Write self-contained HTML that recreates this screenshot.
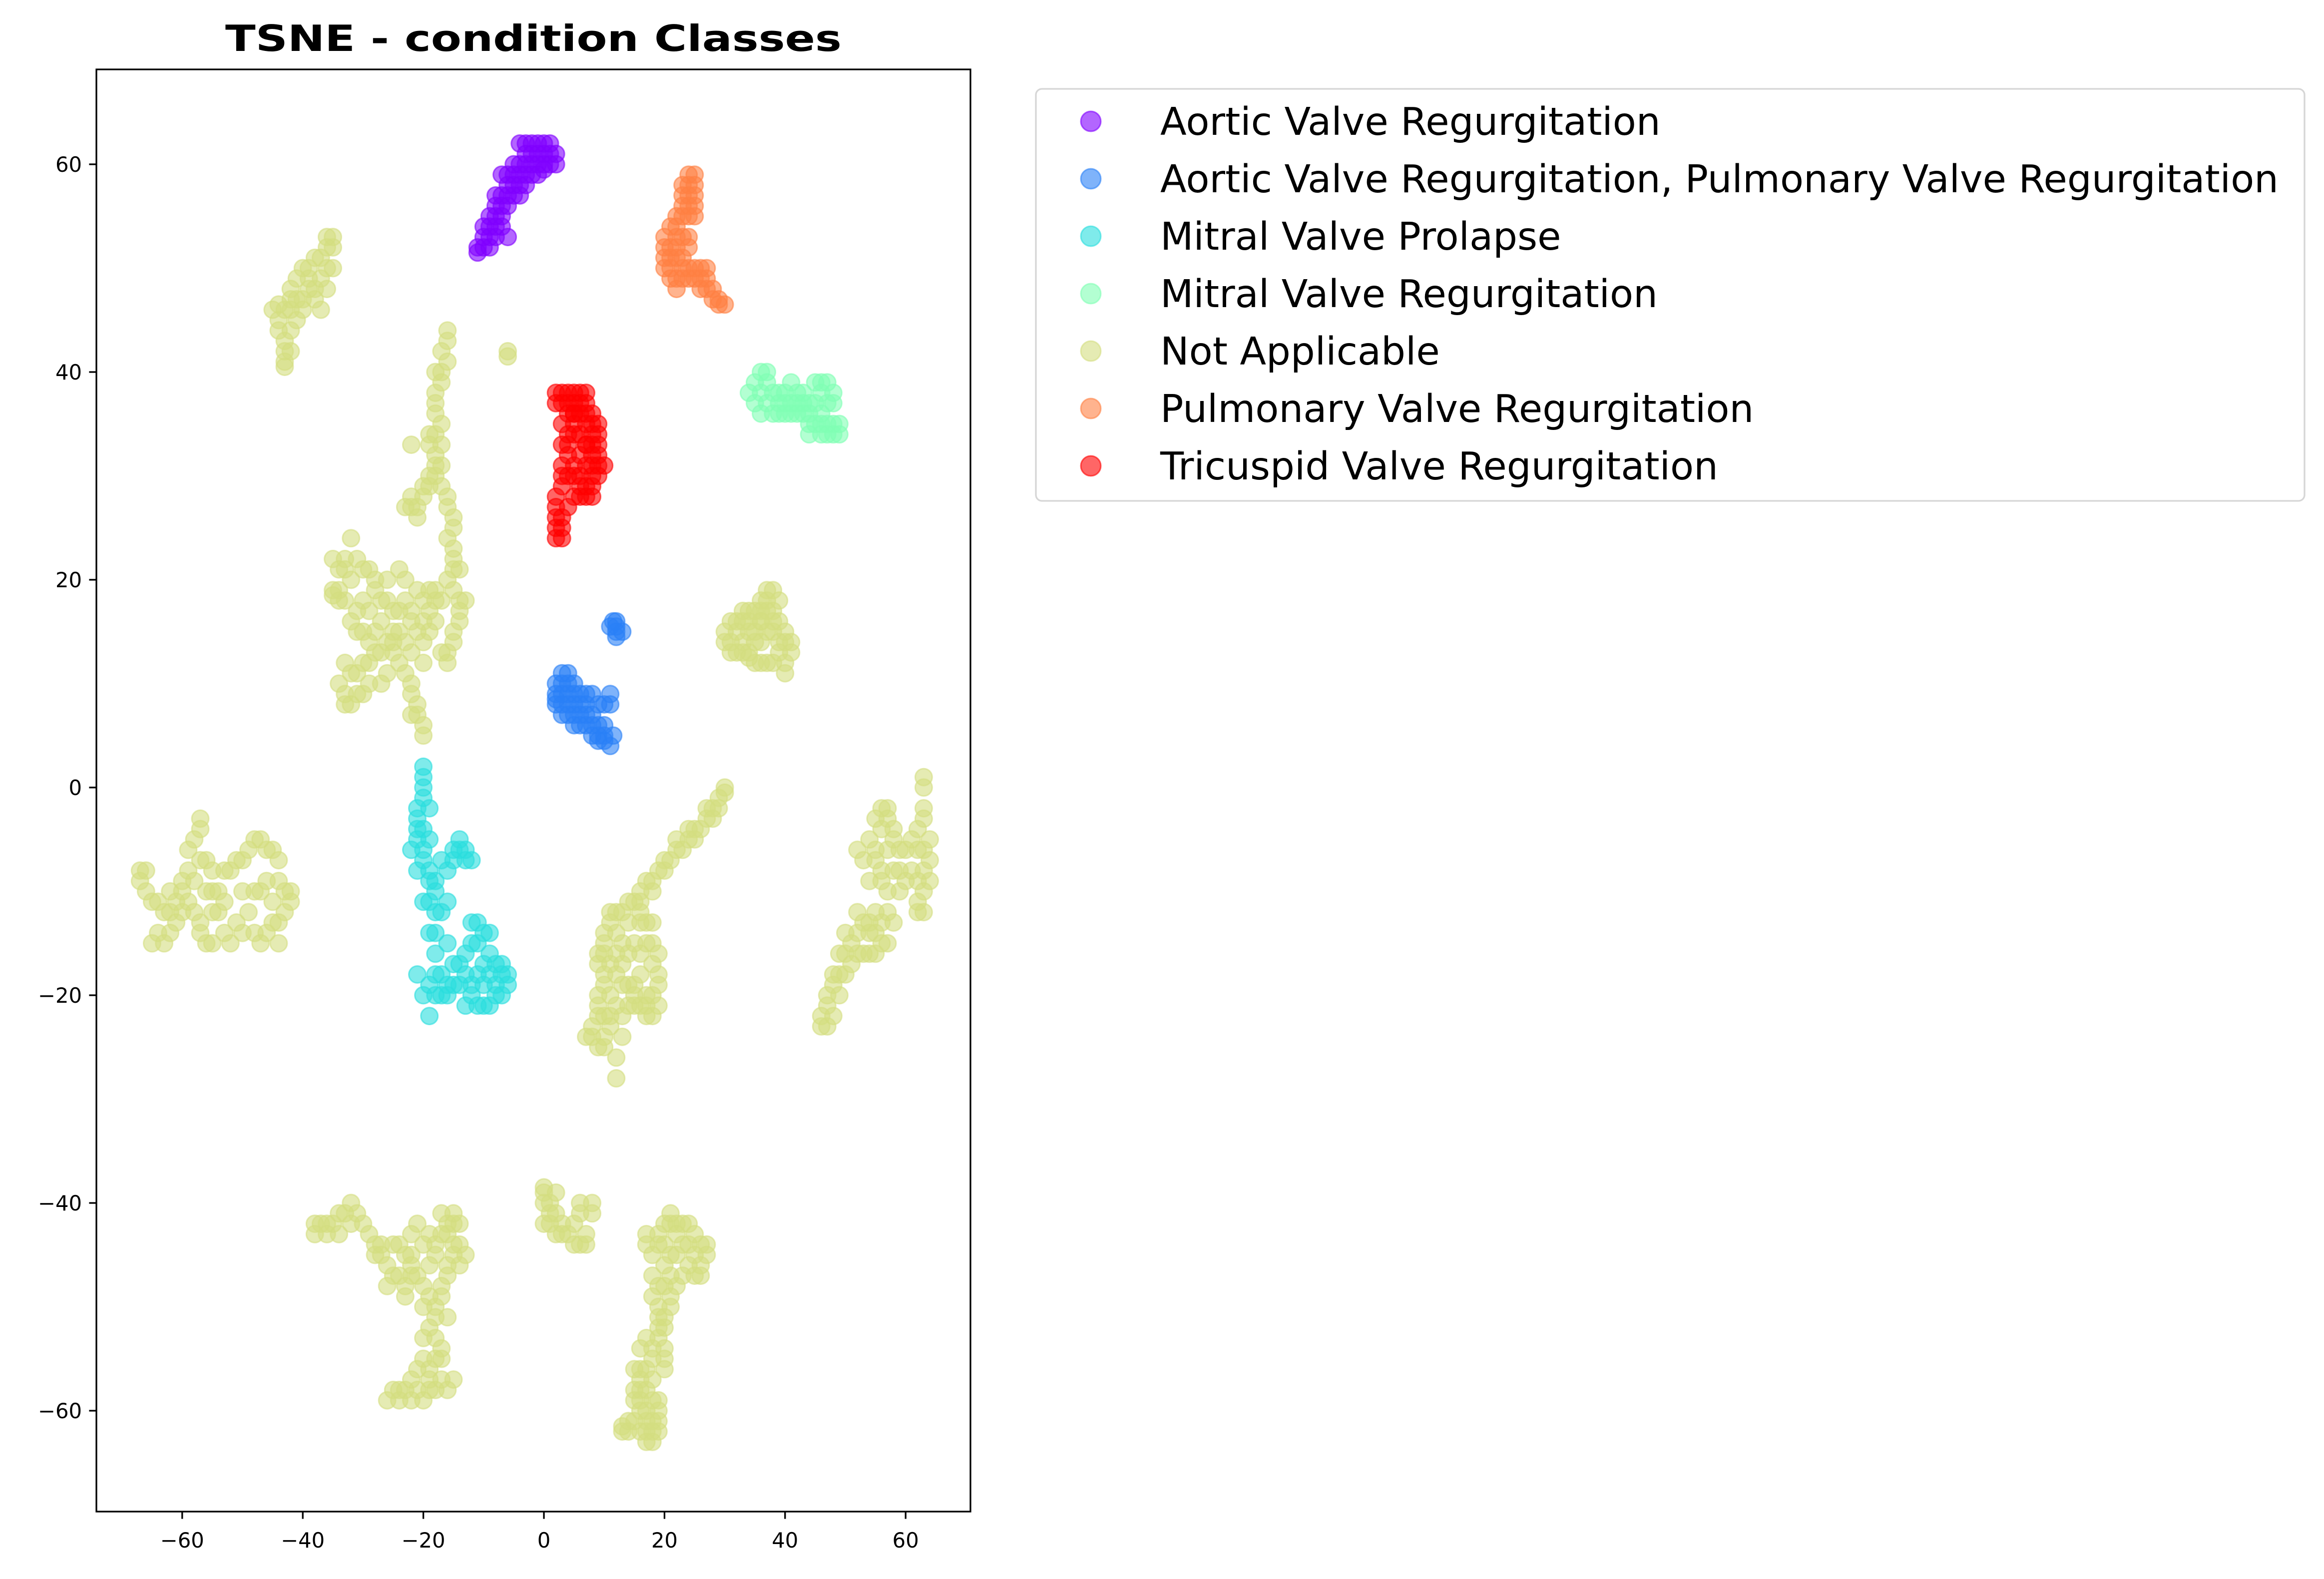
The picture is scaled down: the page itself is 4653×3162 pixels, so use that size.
<!DOCTYPE html>
<html><head><meta charset="utf-8"><style>html,body{margin:0;padding:0;background:#fff}svg{display:block}</style></head>
<body>
<svg id="chart" xmlns="http://www.w3.org/2000/svg" width="4653" height="3162" viewBox="0 0 4653 3162" font-family="'DejaVu Sans','Liberation Sans',sans-serif">
<rect width="4653" height="3162" fill="#fff"/>
<text x="1068" y="102" text-anchor="middle" font-size="72" font-weight="bold" textLength="1234" lengthAdjust="spacingAndGlyphs">TSNE - condition Classes</text>
<g id="points"></g>
<g id="axes"></g>
<g id="legend"></g>
</svg>
<script>
const classNames = ["Aortic Valve Regurgitation","Aortic Valve Regurgitation, Pulmonary Valve Regurgitation","Mitral Valve Prolapse","Mitral Valve Regurgitation","Not Applicable","Pulmonary Valve Regurgitation","Tricuspid Valve Regurgitation"];
const classColors = ["#8000ff","#2a80f6","#2adddd","#80ffb4","#d4dd80","#ff8042","#ff0000"];
const xTicks = [-60,-40,-20,0,20,40,60];
const yTicks = [-60,-40,-20,0,20,40,60];
const aorticPts = [[-11,51.5],[-9,52],[-10,53],[-8,55],[-7,57],[-6,58],[-5,59],[-4,60],[-3,61],[-1,61],[0,62],[1,61],[2,60],[-2,59],[0,60],[-6,56],[-9,54],[-7,54],[-8,53],[-4,62],[-3,59],[-5,57],[-1,60],[1,62],[-2,62],[-7,59],[-8,57],[-6,53],[-11,52],[-3,58],[-4,57],
[-10,52],[-9,53],[-8,54],[-7,55],[-6,57],[-5,58],[-4,59],[-3,60],[-2,61],[-1,62],[0,61],[1,60],[-2,60],[-5,60],[-6,59],[-4,58],[-8,56],[-9,55],[-10,54],[-7,56],[-3,62],[2,61],[-1,59],[0,59.5]];
const aorticPulmPts = [[2,9],[3,10],[4,11],[5,10],[3,8],[4,7],[5,8],[6,7],[7,6],[8,5],[9,5],[10,4.5],[11,4],[9,6],[10,8],[11,9],[8,9],[6,9],[2,8],[4,9],[7,8],[12,15],[12,16],[11,15.5],[13,15],[12,14.5],[5,6],[3,9],
[2,10],[3,11],[4,10],[5,9],[6,8],[7,7],[8,6],[9,4.5],[10,5],[10,6],[11,8],[9,8],[8,7],[7,9],[6,6],[4,8],[3,7],[2,8.5],[5,7],[11.5,5],[12,15.5],[11.5,16]];
const mvpPts = [[-20,2],[-20,0],[-19,-2],[-21,-4],[-20,-6],[-22,-6],[-21,-8],[-19,-8],[-18,-10],[-20,-11],[-17,-12],[-15,-7],[-13,-6],[-14,-5],[-12,-7],[-16,-8],[-18,-16],[-17,-18],[-16,-20],[-19,-22],[-18,-20],[-15,-19],[-13,-21],[-12,-19],[-10,-17],[-10,-14],[-11,-13],[-9,-16],[-8,-20],[-7,-18],[-6,-18],[-7,-20],[-9,-21],[-14,-17],[-21,-18],[-19,-14],[-10,-21],[-11,-18],[-16,-15],[-19,-5],[-21,-2],
[-20,1],[-20,-1],[-21,-3],[-20,-4],[-21,-5],[-20,-7],[-19,-9],[-18,-9],[-19,-11],[-18,-12],[-16,-11],[-14,-6],[-13,-7],[-15,-6],[-17,-7],[-18,-14],[-18,-18],[-17,-20],[-16,-19],[-14,-19],[-13,-18],[-12,-20],[-11,-21],[-12,-15],[-11,-15],[-9,-18],[-8,-17],[-8,-19],[-10,-19],[-15,-17],[-20,-20],[-19,-19],[-13,-16],[-9,-14],[-7,-17],[-6,-19],[-12,-13]];
const mvrPts = [[34,38],[35,37],[36,40],[37,39],[38,38],[39,37],[40,38],[41,37],[42,36],[43,37],[44,36],[45,35],[46,34],[47,34],[48,34],[49,35],[46,38],[47,39],[45,39],[48,37],[43,38],[38,36],[40,36],[44,34],[42,38],[46,36],
[35,39],[36,38],[37,37],[39,38],[40,37],[41,36],[42,37],[43,36],[44,35],[45,37],[46,35],[47,35],[48,35],[48,38],[47,37],[46,39],[44,37],[39,36],[36,36],[41,39],[49,34],[37,40]];
const naPts = [
[-35,53],[-36,52],[-38,51],[-40,50],[-41,49],[-40,47],[-42,47],[-43,46],[-45,46],[-44,44],[-43,42],[-43,41],[-42,44],[-38,48],[-36,50],[-37,46],[-39,49],[-41,45],
[-35,52],[-37,51],[-39,50],[-39,48],[-41,47],[-42,46],[-44,45],[-43,43],[-42,42],[-43,40.5],[-36,53],[-37,49],[-38,47],[-40,46],[-42,48],[-35,50],[-36,48],[-44,46.5],
[-16,44],[-17,42],[-17,40],[-18,38],[-18,36],[-19,34],[-18,32],[-19,30],[-20,29],[-22,28],[-23,27],[-21,26],[-17,31],[-16,28],[-15,25],[-15,22],[-16,20],[-14,17],[-15,15],[-17,13],[-16,12],[-22,33],[-6,42],[-13,18],[-14,21],
[-16,43],[-16,41],[-17,39],[-18,37],[-17,35],[-18,34],[-19,33],[-18,31],[-19,29],[-20,28],[-21,27],[-22,27],[-17,29],[-16,27],[-15,26],[-16,24],[-15,23],[-15,21],[-15,19],[-14,18],[-14,16],[-15,14],[-16,13],[-18,30],[-17,33],[-18,40],[-6,41.5],
[-35,22],[-33,21],[-32,24],[-30,21],[-28,20],[-27,18],[-25,17],[-22,16],[-20,18],[-19,19],[-23,20],[-26,14],[-30,18],[-34,18],[-35,19],[-31,15],[-29,12],[-31,11],[-33,9],[-32,8],[-30,9],[-27,10],[-25,13],[-23,11],[-21,8],[-20,6],[-22,7],[-24,15],[-28,15],[-18,16],[-17,18],[-20,14],[-33,12],
[-34,21],[-33,22],[-31,22],[-32,20],[-29,21],[-28,19],[-26,18],[-24,17],[-23,18],[-21,19],[-22,17],[-20,16],[-19,17],[-18,18],[-18,19],[-25,15],[-27,16],[-29,17],[-31,17],[-33,18],[-32,16],[-30,15],[-28,13],[-30,12],[-32,11],[-34,10],[-33,8],[-31,9],[-29,10],[-26,11],[-24,12],[-22,13],[-22,10],[-21,7],[-20,5],[-22,9],[-25,14],[-27,13],[-23,14],[-21,15],[-34,19],[-26,20],[-24,21],[-35,18.5],[-29,14],[-20,12],[-19,15],
[30,15],[31,14],[32,16],[33,17],[34,13],[35,15],[36,17],[37,18],[38,16],[39,14],[40,12],[40,15],[37,12],[35,12],[32,13],[38,19],[36,14],[41,13],[34,16],[33,14],[36,16],
[30,14],[31,16],[32,15],[33,16],[33,13],[34,15],[35,14],[35,17],[36,16],[37,17],[37,15],[38,15],[38,17],[39,16],[39,13],[40,14],[40,11],[38,12],[36,12],[34,12.5],[31,13],[37,19],[39,18],[36,18],[41,14],[34,17],
[-67,-8],[-66,-10],[-64,-11],[-65,-15],[-62,-14],[-60,-12],[-59,-8],[-58,-5],[-57,-3],[-56,-7],[-55,-10],[-54,-12],[-52,-8],[-50,-7],[-48,-5],[-46,-6],[-44,-7],[-43,-10],[-42,-11],[-45,-13],[-47,-15],[-50,-14],[-52,-15],[-56,-15],[-60,-9],[-53,-11],[-48,-10],[-44,-15],[-62,-10],[-57,-13],
[-67,-9],[-65,-11],[-63,-12],[-64,-14],[-62,-12],[-61,-11],[-60,-10],[-59,-6],[-57,-4],[-57,-7],[-56,-10],[-55,-12],[-54,-10],[-53,-8],[-51,-7],[-49,-6],[-47,-5],[-45,-6],[-44,-9],[-43,-12],[-44,-13],[-46,-14],[-48,-14],[-49,-12],[-51,-13],[-53,-14],[-55,-15],[-57,-14],[-58,-12],[-59,-11],[-61,-13],[-63,-15],[-66,-8],[-47,-10],[-50,-10],[-45,-11],[-42,-10],[-55,-8],[-58,-9],[-46,-9],
[30,0],[29,-1],[28,-2],[27,-3],[25,-4],[24,-5],[22,-6],[20,-8],[18,-9],[16,-10],[15,-11],[13,-12],[11,-12],[10,-14],[9,-16],[10,-18],[9,-20],[8,-23],[9,-25],[10,-24],[12,-28],[13,-22],[15,-21],[17,-20],[18,-22],[19,-16],[18,-13],[17,-15],[13,-17],[12,-14],[14,-19],[11,-20],[16,-18],[19,-19],[7,-24],
[30,-0.5],[29,-2],[28,-3],[26,-4],[25,-5],[23,-6],[21,-7],[19,-8],[17,-9],[16,-11],[14,-11],[12,-12],[11,-13],[10,-15],[10,-16],[9,-17],[10,-19],[9,-21],[9,-22],[8,-24],[10,-25],[11,-23],[12,-21],[14,-21],[16,-21],[17,-21],[18,-20],[19,-18],[18,-17],[18,-15],[17,-13],[16,-13],[14,-13],[13,-15],[12,-16],[12,-18],[13,-19],[15,-19],[16,-16],[15,-15],[14,-16],[11,-17],[11,-22],[16,-12],[13,-24],[12,-26],[10,-22],[27,-2],[24,-4],[22,-5],[20,-7],[18,-10],[19,-21],[17,-22],[15,-20],
[63,1],[63,-3],[62,-6],[64,-7],[63,-10],[62,-12],[60,-9],[58,-5],[57,-3],[56,-2],[55,-6],[56,-9],[57,-12],[55,-14],[54,-13],[52,-12],[50,-14],[49,-16],[48,-18],[47,-20],[46,-22],[47,-23],[50,-18],[53,-16],[56,-15],[59,-8],[52,-6],[54,-9],
[63,0],[63,-2],[62,-4],[63,-6],[63,-8],[62,-9],[62,-11],[61,-8],[59,-6],[58,-4],[57,-2],[56,-4],[55,-7],[56,-8],[57,-10],[56,-13],[55,-12],[54,-14],[53,-13],[52,-14],[51,-15],[50,-16],[49,-18],[48,-19],[47,-21],[46,-23],[48,-22],[49,-20],[51,-17],[52,-16],[54,-16],[55,-16],[58,-13],[57,-15],[55,-3],[53,-7],[54,-5],[58,-8],[60,-6],[61,-5],[64,-5],[64,-9],[63,-12],[59,-10],[57,-6],
[-38,-42],[-36,-43],[-34,-41],[-32,-40],[-30,-42],[-28,-45],[-25,-47],[-24,-44],[-22,-46],[-20,-48],[-18,-45],[-15,-42],[-14,-44],[-16,-47],[-18,-50],[-19,-52],[-17,-55],[-15,-57],[-18,-58],[-20,-59],[-24,-58],[-22,-57],[-26,-59],[-20,-55],[-21,-42],[-17,-41],[-23,-49],[-27,-44],[-14,-46],[-16,-51],
[-37,-42],[-35,-42],[-33,-41],[-31,-41],[-29,-43],[-27,-45],[-26,-46],[-25,-44],[-23,-45],[-22,-47],[-21,-47],[-19,-46],[-18,-44],[-17,-43],[-16,-42],[-15,-44],[-15,-45],[-16,-46],[-17,-48],[-17,-49],[-18,-51],[-18,-53],[-18,-55],[-17,-57],[-16,-58],[-19,-57],[-21,-58],[-23,-58],[-25,-58],[-24,-59],[-22,-59],[-19,-58],[-19,-56],[-21,-56],[-20,-44],[-22,-43],[-20,-50],[-24,-47],[-26,-48],[-23,-48],[-19,-49],[-19,-43],[-16,-43],[-15,-41],[-17,-54],[-20,-53],[-22,-45],[-28,-44],[-32,-42],[-34,-43],[-36,-42],[-38,-43],[-14,-42],[-13,-45],
[0,-39],[1,-40],[2,-41],[0,-42],[3,-43],[5,-44],[7,-44],[8,-40],[6,-41],[17,-43],[19,-44],[21,-41],[23,-42],[25,-43],[27,-45],[26,-47],[24,-46],[22,-48],[20,-46],[18,-47],[19,-50],[20,-52],[18,-54],[16,-56],[15,-58],[16,-60],[17,-61],[19,-62],[18,-63],[13,-62],[14,-61],[17,-58],[20,-56],[19,-59],[16,-54],[21,-49],
[0,-40],[1,-41],[1,-42],[2,-43],[4,-43],[6,-44],[7,-43],[8,-41],[6,-40],[5,-42],[3,-42],[0,-38.5],[2,-39],[17,-44],[18,-45],[19,-43],[20,-42],[21,-42],[22,-43],[23,-44],[24,-44],[26,-44],[26,-46],[25,-47],[23,-47],[21,-47],[20,-48],[19,-48],[18,-49],[19,-51],[19,-52],[19,-53],[18,-55],[17,-56],[16,-57],[15,-59],[15,-61],[16,-62],[17,-62],[18,-61],[19,-60],[19,-61],[18,-62],[14,-62],[16,-59],[17,-60],[18,-57],[20,-55],[20,-54],[17,-53],[21,-45],[22,-45],[20,-44],[25,-45],[27,-44],[21,-50],[20,-51],[16,-58],[13,-61.5],[18,-59],[17,-63],[15,-56],[22,-42],[24,-42]];
const pulmPts = [[24,59],[23,58],[25,57],[24,56],[22,55],[23,53],[21,52],[20,51],[21,49],[22,48],[23,50],[25,49],[26,50],[27,49],[28,48],[29,47],[30,46.5],[24,52],[25,55],[22,51],[21,54],[25,58],[27,50],[24,49],[23,55],[20,53],
[24,58],[23,57],[24,57],[25,56],[23,56],[22,54],[22,53],[21,51],[20,50],[21,50],[22,49],[23,49],[24,50],[25,50],[26,49],[27,48],[28,47],[29,46.5],[23,51],[24,53],[24,55],[22,52],[26,48],[25,59],[20,52]];
const tricPts = [[2,38],[3,37],[4,36],[5,37],[6,38],[7,37],[8,36],[9,35],[8,33],[9,31],[8,29],[7,28],[6,28],[5,30],[4,33],[3,35],[5,34],[6,32],[7,31],[8,30],[9,32],[10,31],[3,30],[2,28],[2,26],[3,24],[3,25],[2,25],[4,27],[7,35],[6,36],[4,38],[5,36],[7,33],
[2,37],[3,38],[4,37],[5,36],[6,37],[7,36],[8,35],[8,34],[9,33],[8,32],[9,30],[8,28],[7,29],[6,30],[5,31],[4,32],[3,33],[4,34],[5,35],[6,34],[7,33],[8,31],[3,31],[3,29],[2,27],[3,26],[2,24],[4,30],[5,28],[6,29],[9,34],[7,38],[5,38]];
const seriesPts = [aorticPts, aorticPulmPts, mvpPts, mvrPts, naPts, pulmPts, tricPts];

const NS="http://www.w3.org/2000/svg";
const L=193,R=1943,T=139,B=3027;
const X0=1089, XS=12.07, Y0=1577, YS=20.8;
const sx=v=>X0+v*XS, sy=v=>Y0-v*YS;
function mk(tag,attrs,parent){const e=document.createElementNS(NS,tag);for(const k in attrs)e.setAttribute(k,attrs[k]);parent.appendChild(e);return e;}
const pg=document.getElementById('points');
const clip=mk('clipPath',{id:'pc'},pg);mk('rect',{x:L,y:T,width:R-L,height:B-T},clip);
const inner=mk('g',{'clip-path':'url(#pc)'},pg);
seriesPts.forEach((pts,ci)=>{
  const g=mk('g',{},inner);
  
  
  pts.forEach(p=>{
    const c=mk('circle',{cx:sx(p[0]),cy:sy(p[1]),r:17,fill:classColors[ci],'fill-opacity':0.6,stroke:classColors[ci],'stroke-opacity':0.6,'stroke-width':3},g);
    
    
  });
});
const ax=document.getElementById('axes');
const fr=mk('rect',{x:L,y:T,width:R-L,height:B-T,fill:'none',stroke:'#000','stroke-width':3.3},ax);


xTicks.forEach(v=>{
  const x=sx(v);
  mk('line',{x1:x,x2:x,y1:B,y2:B+14.6,stroke:'#000','stroke-width':3.3},ax);
  const t=mk('text',{x:x,y:B+72,'text-anchor':'middle','font-size':41.7},ax);
  t.textContent=v<0?'\u2212'+(-v):String(v);
  
  
});
yTicks.forEach(v=>{
  const y=sy(v);
  mk('line',{x1:L-14.6,x2:L,y1:y,y2:y,stroke:'#000','stroke-width':3.3},ax);
  const t=mk('text',{x:L-29,y:y+15,'text-anchor':'end','font-size':41.7},ax);
  t.textContent=v<0?'\u2212'+(-v):String(v);
  
  
});
const lg=document.getElementById('legend');
const lf=mk('rect',{x:2074,y:178,width:2540,height:825,rx:12,fill:'#fff','fill-opacity':0.8,stroke:'#d6d6d6','stroke-width':3.3},lg);


classNames.forEach((n,i)=>{
  const cy=243+i*115;
  const g=mk('g',{},lg);
  
  
  mk('circle',{cx:2184,cy:cy,r:20,fill:classColors[i],'fill-opacity':0.6,stroke:classColors[i],'stroke-opacity':0.6,'stroke-width':3},g);
  const t=mk('text',{x:2323,y:cy+27,'font-size':77},g);
  t.textContent=n;
});
</script>
</body></html>
